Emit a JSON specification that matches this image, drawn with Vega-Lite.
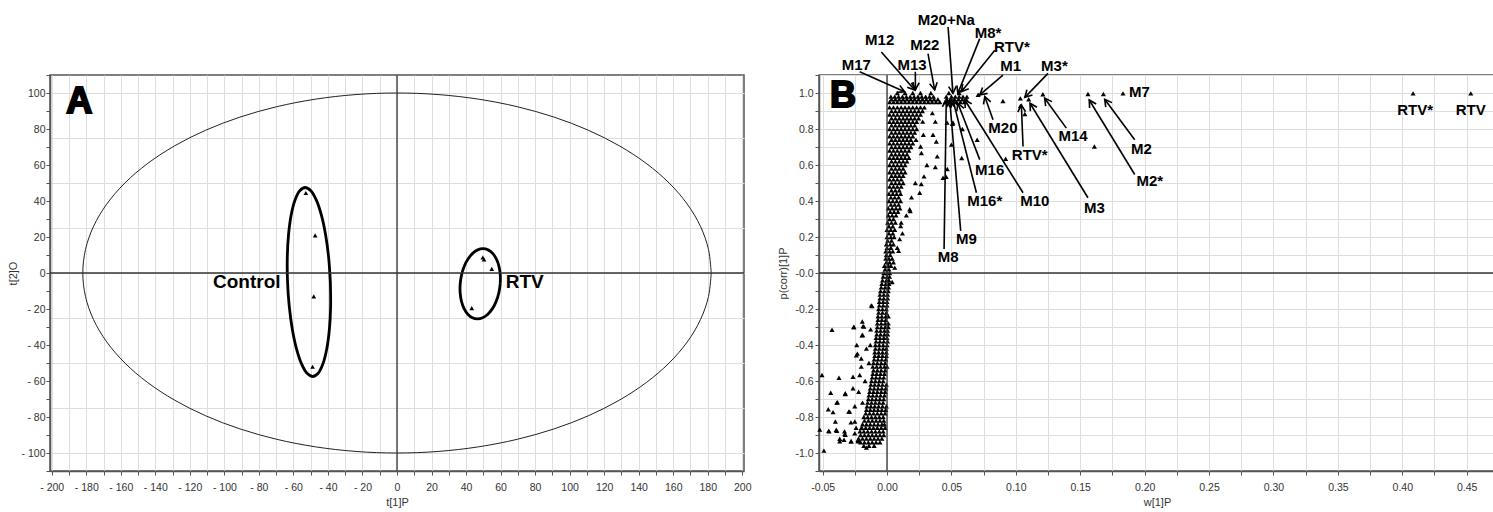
{
  "$schema": "https://vega.github.io/schema/vega-lite/v6.json",
  "background": "white",
  "padding": {"left": 6, "top": 12, "right": 0, "bottom": 0},
  "bounds": "flush",
  "spacing": 75,
  "config": {
    "view": {"stroke": "#555", "strokeWidth": 1.5},
    "font": "Liberation Sans",
    "axis": {
      "labelFont": "Liberation Sans Narrow, Liberation Sans, sans-serif",
      "labelFontSize": 11,
      "labelColor": "#333",
      "titleFont": "Liberation Sans Narrow, Liberation Sans, sans-serif",
      "titleFontSize": 11,
      "titleFontWeight": "normal",
      "titleColor": "#333",
      "domainColor": "#555",
      "domainWidth": 1.5,
      "tickColor": "#555",
      "tickSize": 4,
      "gridColor": "#dedede",
      "labelOverlap": false,
      "labelFlush": false
    }
  },
  "hconcat": [
    {
      "width": 694,
      "height": 396,
      "resolve": {"axis": {"x": "independent", "y": "independent"}},
      "layer": [
        {
          "data": {"values": [
            {"i":0,"x":182,"y":0},{"i":1,"x":180.44,"y":13.05},{"i":2,"x":175.8,"y":25.88},{"i":3,"x":168.15,"y":38.27},{"i":4,"x":157.62,"y":50},{"i":5,"x":144.39,"y":60.88},{"i":6,"x":128.69,"y":70.71},{"i":7,"x":110.79,"y":79.34},{"i":8,"x":91,"y":86.6},{"i":9,"x":69.65,"y":92.39},{"i":10,"x":47.11,"y":96.59},{"i":11,"x":23.76,"y":99.14},{"i":12,"x":0,"y":100},
            {"i":13,"x":-23.76,"y":99.14},{"i":14,"x":-47.11,"y":96.59},{"i":15,"x":-69.65,"y":92.39},{"i":16,"x":-91,"y":86.6},{"i":17,"x":-110.79,"y":79.34},{"i":18,"x":-128.69,"y":70.71},{"i":19,"x":-144.39,"y":60.88},{"i":20,"x":-157.62,"y":50},{"i":21,"x":-168.15,"y":38.27},{"i":22,"x":-175.8,"y":25.88},{"i":23,"x":-180.44,"y":13.05},{"i":24,"x":-182,"y":0},
            {"i":25,"x":-180.44,"y":-13.05},{"i":26,"x":-175.8,"y":-25.88},{"i":27,"x":-168.15,"y":-38.27},{"i":28,"x":-157.62,"y":-50},{"i":29,"x":-144.39,"y":-60.88},{"i":30,"x":-128.69,"y":-70.71},{"i":31,"x":-110.79,"y":-79.34},{"i":32,"x":-91,"y":-86.6},{"i":33,"x":-69.65,"y":-92.39},{"i":34,"x":-47.11,"y":-96.59},{"i":35,"x":-23.76,"y":-99.14},{"i":36,"x":0,"y":-100},
            {"i":37,"x":23.76,"y":-99.14},{"i":38,"x":47.11,"y":-96.59},{"i":39,"x":69.65,"y":-92.39},{"i":40,"x":91,"y":-86.6},{"i":41,"x":110.79,"y":-79.34},{"i":42,"x":128.69,"y":-70.71},{"i":43,"x":144.39,"y":-60.88},{"i":44,"x":157.62,"y":-50},{"i":45,"x":168.15,"y":-38.27},{"i":46,"x":175.8,"y":-25.88},{"i":47,"x":180.44,"y":-13.05},{"i":48,"x":182,"y":0}
          ]},
          "mark": {"type": "line", "color": "#222", "strokeWidth": 1, "interpolate": "catmull-rom"},
          "encoding": {
            "x": {"field": "x", "type": "quantitative", "scale": {"domain": [-201, 201], "nice": false, "zero": false},
              "axis": {"orient": "bottom", "values": [-200,-190,-180,-170,-160,-150,-140,-130,-120,-110,-100,-90,-80,-70,-60,-50,-40,-30,-20,-10,0,10,20,30,40,50,60,70,80,90,100,110,120,130,140,150,160,170,180,190,200],
                "labelExpr": "datum.value % 20 == 0 ? (datum.value < 0 ? '- ' + abs(datum.value) : '' + datum.value) : ''",
                "labelOverlap": false, "labelFontSize": 10.5,
                "title": "t[1]P", "grid": true, "labelPadding": 7, "titlePadding": 4}},
            "y": {"field": "y", "type": "quantitative", "scale": {"domain": [-110, 110], "nice": false, "zero": false},
              "axis": {"orient": "right", "values": [-100,-75,-50,-25,0,25,50,75,100], "grid": true, "labels": false, "ticks": false, "domain": false, "title": null}},
            "order": {"field": "i", "type": "quantitative"}
          }
        },
        {
          "data": {"values": [
            {"g":"c","i":0,"x":-38.6,"y":-5},{"g":"c","i":1,"x":-39.59,"y":8.59},{"g":"c","i":2,"x":-41.36,"y":21.25},{"g":"c","i":3,"x":-43.79,"y":32.12},{"g":"c","i":4,"x":-46.71,"y":40.47},{"g":"c","i":5,"x":-49.91,"y":45.71},{"g":"c","i":6,"x":-53.2,"y":47.5},{"g":"c","i":7,"x":-56.33,"y":45.71},{"g":"c","i":8,"x":-59.11,"y":40.47},{"g":"c","i":9,"x":-61.33,"y":32.12},{"g":"c","i":10,"x":-62.84,"y":21.25},{"g":"c","i":11,"x":-63.55,"y":8.59},{"g":"c","i":12,"x":-63.4,"y":-5},{"g":"c","i":13,"x":-62.41,"y":-18.59},{"g":"c","i":14,"x":-60.64,"y":-31.25},{"g":"c","i":15,"x":-58.21,"y":-42.12},{"g":"c","i":16,"x":-55.29,"y":-50.47},{"g":"c","i":17,"x":-52.09,"y":-55.71},{"g":"c","i":18,"x":-48.8,"y":-57.5},{"g":"c","i":19,"x":-45.67,"y":-55.71},{"g":"c","i":20,"x":-42.89,"y":-50.47},{"g":"c","i":21,"x":-40.67,"y":-42.12},{"g":"c","i":22,"x":-39.16,"y":-31.25},{"g":"c","i":23,"x":-38.45,"y":-18.59},{"g":"c","i":24,"x":-38.6,"y":-5},
            {"g":"r","i":0,"x":59.8,"y":-6},{"g":"r","i":1,"x":59.81,"y":-0.95},{"g":"r","i":2,"x":59.05,"y":3.75},{"g":"r","i":3,"x":57.53,"y":7.79},{"g":"r","i":4,"x":55.39,"y":10.89},{"g":"r","i":5,"x":52.75,"y":12.84},{"g":"r","i":6,"x":49.8,"y":13.5},{"g":"r","i":7,"x":46.75,"y":12.84},{"g":"r","i":8,"x":43.79,"y":10.89},{"g":"r","i":9,"x":41.13,"y":7.79},{"g":"r","i":10,"x":38.95,"y":3.75},{"g":"r","i":11,"x":37.41,"y":-0.95},{"g":"r","i":12,"x":36.6,"y":-6},{"g":"r","i":13,"x":36.59,"y":-11.05},{"g":"r","i":14,"x":37.35,"y":-15.75},{"g":"r","i":15,"x":38.87,"y":-19.79},{"g":"r","i":16,"x":41.01,"y":-22.89},{"g":"r","i":17,"x":43.65,"y":-24.84},{"g":"r","i":18,"x":46.6,"y":-25.5},{"g":"r","i":19,"x":49.65,"y":-24.84},{"g":"r","i":20,"x":52.61,"y":-22.89},{"g":"r","i":21,"x":55.27,"y":-19.79},{"g":"r","i":22,"x":57.45,"y":-15.75},{"g":"r","i":23,"x":58.99,"y":-11.05},{"g":"r","i":24,"x":59.8,"y":-6}
          ]},
          "mark": {"type": "line", "color": "black", "strokeWidth": 2.8, "interpolate": "catmull-rom"},
          "encoding": {
            "x": {"field": "x", "type": "quantitative", "axis": null},
            "y": {"field": "y", "type": "quantitative", "axis": null},
            "detail": {"field": "g"},
            "order": {"field": "i", "type": "quantitative"}
          }
        },
        {
          "data": {"values": [{}]},
          "mark": {"type": "rule", "color": "#333", "strokeWidth": 1.3},
          "encoding": {"x": {"datum": 0, "axis": null}}
        },
        {
          "data": {"values": [{}]},
          "mark": {"type": "rule", "color": "#333", "strokeWidth": 1.3},
          "encoding": {"y": {"datum": 0, "axis": null}}
        },
        {
          "data": {"values": [
            {"group":"Control","x":-52.8,"y":44.4},{"group":"Control","x":-47.4,"y":20.9},{"group":"Control","x":-48.2,"y":-13},{"group":"Control","x":-48.9,"y":-52.1},
            {"group":"RTV","x":49.7,"y":8.6},{"group":"RTV","x":50.4,"y":7.5},{"group":"RTV","x":54.9,"y":2.3},{"group":"RTV","x":43.3,"y":-19.5}
          ]},
          "mark": {"type": "point", "shape": "triangle-up", "filled": true, "color": "black", "opacity": 1, "size": 22},
          "encoding": {
            "x": {"field": "x", "type": "quantitative", "axis": null},
            "y": {"field": "y", "type": "quantitative",
              "axis": {"orient": "left", "values": [-110,-100,-90,-80,-70,-60,-50,-40,-30,-20,-10,0,10,20,30,40,50,60,70,80,90,100,110],
                "labelExpr": "datum.value % 20 == 0 ? (datum.value < 0 ? '- ' + abs(datum.value) : '' + datum.value) : ''",
                "labelOverlap": false, "labelFontSize": 10.5,
                "title": "t[2]O", "grid": false, "labelPadding": 1, "titlePadding": 3}}
          }
        },
        {
          "data": {"values": [{"label":"Control","x":-87,"y":-5},{"label":"RTV","x":74,"y":-5}]},
          "mark": {"type": "text", "fontSize": 19, "fontWeight": "bold", "font": "Liberation Sans", "color": "black", "baseline": "middle", "align": "center"},
          "encoding": {
            "x": {"field": "x", "type": "quantitative", "axis": null},
            "y": {"field": "y", "type": "quantitative", "axis": null},
            "text": {"field": "label"}
          }
        },
        {
          "data": {"values": [{"panel":"A","x":-184,"y":95}]},
          "mark": {"type": "text", "fontSize": 36, "fontWeight": "bold", "font": "Liberation Sans", "color": "black", "stroke": "black", "strokeWidth": 2, "baseline": "middle", "align": "center"},
          "encoding": {
            "x": {"field": "x", "type": "quantitative", "axis": null},
            "y": {"field": "y", "type": "quantitative", "axis": null},
            "text": {"field": "panel"}
          }
        }
      ]
    },
    {
      "width": 676,
      "height": 396,
      "resolve": {"axis": {"x": "independent", "y": "independent"}},
      "layer": [
        {
          "data": {"values": [
            {"x":-0.018,"y":-0.96},{"x":-0.014,"y":-0.96},{"x":-0.010,"y":-0.96},
            {"x":-0.022,"y":-0.92},{"x":-0.019,"y":-0.92},{"x":-0.016,"y":-0.92},{"x":-0.013,"y":-0.92},{"x":-0.010,"y":-0.92},{"x":-0.007,"y":-0.92},{"x":-0.004,"y":-0.92},
            {"x":-0.021,"y":-0.88},{"x":-0.018,"y":-0.88},{"x":-0.015,"y":-0.88},{"x":-0.012,"y":-0.88},{"x":-0.009,"y":-0.88},{"x":-0.006,"y":-0.88},{"x":-0.003,"y":-0.88},
            {"x":-0.019,"y":-0.84},{"x":-0.016,"y":-0.84},{"x":-0.013,"y":-0.84},{"x":-0.010,"y":-0.84},{"x":-0.007,"y":-0.84},{"x":-0.004,"y":-0.84},{"x":-0.002,"y":-0.84},
            {"x":-0.018,"y":-0.80},{"x":-0.015,"y":-0.80},{"x":-0.012,"y":-0.80},{"x":-0.009,"y":-0.80},{"x":-0.006,"y":-0.80},{"x":-0.003,"y":-0.80},
            {"x":-0.016,"y":-0.76},{"x":-0.013,"y":-0.76},{"x":-0.010,"y":-0.76},{"x":-0.007,"y":-0.76},{"x":-0.004,"y":-0.76},{"x":-0.001,"y":-0.76},
            {"x":-0.015,"y":-0.72},{"x":-0.012,"y":-0.72},{"x":-0.009,"y":-0.72},{"x":-0.006,"y":-0.72},{"x":-0.003,"y":-0.72},
            {"x":-0.014,"y":-0.68},{"x":-0.011,"y":-0.68},{"x":-0.008,"y":-0.68},{"x":-0.005,"y":-0.68},{"x":-0.002,"y":-0.68},
            {"x":-0.013,"y":-0.64},{"x":-0.010,"y":-0.64},{"x":-0.007,"y":-0.64},{"x":-0.004,"y":-0.64},{"x":-0.001,"y":-0.64},
            {"x":-0.012,"y":-0.60},{"x":-0.009,"y":-0.60},{"x":-0.006,"y":-0.60},{"x":-0.003,"y":-0.60},
            {"x":-0.011,"y":-0.56},{"x":-0.008,"y":-0.56},{"x":-0.005,"y":-0.56},{"x":-0.002,"y":-0.56},
            {"x":-0.011,"y":-0.52},{"x":-0.008,"y":-0.52},{"x":-0.005,"y":-0.52},{"x":-0.002,"y":-0.52},{"x":0.0,"y":-0.52},
            {"x":-0.010,"y":-0.48},{"x":-0.007,"y":-0.48},{"x":-0.004,"y":-0.48},{"x":-0.001,"y":-0.48},
            {"x":-0.0095,"y":-0.44},{"x":-0.0065,"y":-0.44},{"x":-0.0035,"y":-0.44},{"x":-0.0005,"y":-0.44},
            {"x":-0.009,"y":-0.40},{"x":-0.006,"y":-0.40},{"x":-0.003,"y":-0.40},{"x":0.0,"y":-0.40},
            {"x":-0.0085,"y":-0.36},{"x":-0.0055,"y":-0.36},{"x":-0.0025,"y":-0.36},{"x":0.0,"y":-0.36},
            {"x":-0.008,"y":-0.32},{"x":-0.005,"y":-0.32},{"x":-0.002,"y":-0.32},{"x":0.0005,"y":-0.32},
            {"x":-0.0075,"y":-0.28},{"x":-0.0045,"y":-0.28},{"x":-0.0015,"y":-0.28},{"x":0.001,"y":-0.28},
            {"x":-0.007,"y":-0.24},{"x":-0.004,"y":-0.24},{"x":-0.001,"y":-0.24},{"x":0.001,"y":-0.24},
            {"x":-0.0065,"y":-0.20},{"x":-0.0035,"y":-0.20},{"x":-0.0005,"y":-0.20},
            {"x":-0.006,"y":-0.16},{"x":-0.003,"y":-0.16},{"x":0.0,"y":-0.16},
            {"x":-0.0055,"y":-0.12},{"x":-0.0025,"y":-0.12},{"x":0.0005,"y":-0.12},
            {"x":-0.0045,"y":-0.08},{"x":-0.0015,"y":-0.08},{"x":0.0012,"y":-0.08},
            {"x":-0.0035,"y":-0.04},{"x":-0.0005,"y":-0.04},{"x":0.0015,"y":-0.04},
            {"x":-0.0025,"y":0.0},{"x":0.0,"y":0.0},{"x":0.002,"y":0.0},
            {"x":-0.0205,"y":-0.94},{"x":-0.0175,"y":-0.94},{"x":-0.0145,"y":-0.94},{"x":-0.0115,"y":-0.94},{"x":-0.0085,"y":-0.94},{"x":-0.0055,"y":-0.94},
            {"x":-0.0205,"y":-0.90},{"x":-0.0175,"y":-0.90},{"x":-0.0145,"y":-0.90},{"x":-0.0115,"y":-0.90},{"x":-0.0085,"y":-0.90},{"x":-0.0055,"y":-0.90},{"x":-0.0025,"y":-0.90},
            {"x":-0.0195,"y":-0.86},{"x":-0.0165,"y":-0.86},{"x":-0.0135,"y":-0.86},{"x":-0.0105,"y":-0.86},{"x":-0.0075,"y":-0.86},{"x":-0.0045,"y":-0.86},{"x":-0.0015,"y":-0.86},
            {"x":-0.0175,"y":-0.82},{"x":-0.0145,"y":-0.82},{"x":-0.0115,"y":-0.82},{"x":-0.0085,"y":-0.82},{"x":-0.0055,"y":-0.82},{"x":-0.0025,"y":-0.82},
            {"x":-0.0165,"y":-0.78},{"x":-0.0135,"y":-0.78},{"x":-0.0105,"y":-0.78},{"x":-0.0075,"y":-0.78},{"x":-0.0045,"y":-0.78},{"x":-0.0015,"y":-0.78},
            {"x":-0.0155,"y":-0.74},{"x":-0.0125,"y":-0.74},{"x":-0.0095,"y":-0.74},{"x":-0.0065,"y":-0.74},{"x":-0.0035,"y":-0.74},{"x":-0.0005,"y":-0.74},
            {"x":-0.0145,"y":-0.70},{"x":-0.0115,"y":-0.70},{"x":-0.0085,"y":-0.70},{"x":-0.0055,"y":-0.70},{"x":-0.0025,"y":-0.70},
            {"x":-0.0135,"y":-0.66},{"x":-0.0105,"y":-0.66},{"x":-0.0075,"y":-0.66},{"x":-0.0045,"y":-0.66},{"x":-0.0015,"y":-0.66},
            {"x":-0.0125,"y":-0.62},{"x":-0.0095,"y":-0.62},{"x":-0.0065,"y":-0.62},{"x":-0.0035,"y":-0.62},{"x":-0.0005,"y":-0.62},
            {"x":-0.0115,"y":-0.58},{"x":-0.0085,"y":-0.58},{"x":-0.0055,"y":-0.58},{"x":-0.0025,"y":-0.58},
            {"x":-0.0105,"y":-0.54},{"x":-0.0075,"y":-0.54},{"x":-0.0045,"y":-0.54},{"x":-0.0015,"y":-0.54},
            {"x":-0.0105,"y":-0.50},{"x":-0.0075,"y":-0.50},{"x":-0.0045,"y":-0.50},{"x":-0.0015,"y":-0.50},
            {"x":-0.0095,"y":-0.46},{"x":-0.0065,"y":-0.46},{"x":-0.0035,"y":-0.46},{"x":-0.0005,"y":-0.46},
            {"x":-0.009,"y":-0.42},{"x":-0.006,"y":-0.42},{"x":-0.003,"y":-0.42},{"x":-0.0005,"y":-0.42},
            {"x":-0.0085,"y":-0.38},{"x":-0.0055,"y":-0.38},{"x":-0.0025,"y":-0.38},{"x":0.0005,"y":-0.38},
            {"x":-0.008,"y":-0.34},{"x":-0.005,"y":-0.34},{"x":-0.002,"y":-0.34},{"x":0.0005,"y":-0.34},
            {"x":-0.0075,"y":-0.30},{"x":-0.0045,"y":-0.30},{"x":-0.0015,"y":-0.30},{"x":0.001,"y":-0.30},
            {"x":-0.007,"y":-0.26},{"x":-0.004,"y":-0.26},{"x":-0.001,"y":-0.26},
            {"x":-0.0065,"y":-0.22},{"x":-0.0035,"y":-0.22},{"x":-0.0005,"y":-0.22},
            {"x":-0.006,"y":-0.18},{"x":-0.003,"y":-0.18},{"x":0.0,"y":-0.18},
            {"x":-0.0055,"y":-0.14},{"x":-0.0025,"y":-0.14},{"x":0.0005,"y":-0.14},
            {"x":-0.005,"y":-0.10},{"x":-0.002,"y":-0.10},{"x":0.001,"y":-0.10},
            {"x":-0.004,"y":-0.06},{"x":-0.001,"y":-0.06},{"x":0.0015,"y":-0.06},
            {"x":-0.003,"y":-0.02},{"x":0.0,"y":-0.02},{"x":0.002,"y":-0.02},
            {"x":-0.002,"y":0.04},{"x":0.001,"y":0.04},{"x":0.003,"y":0.04},
            {"x":-0.001,"y":0.08},{"x":0.0015,"y":0.08},{"x":0.004,"y":0.08},
            {"x":-0.001,"y":0.12},{"x":0.002,"y":0.12},{"x":0.0045,"y":0.12},
            {"x":-0.0005,"y":0.16},{"x":0.0025,"y":0.16},{"x":0.005,"y":0.16},
            {"x":0.0,"y":0.20},{"x":0.003,"y":0.20},{"x":0.0055,"y":0.20},
            {"x":0.0,"y":0.24},{"x":0.003,"y":0.24},{"x":0.006,"y":0.24},
            {"x":0.0005,"y":0.28},{"x":0.0035,"y":0.28},{"x":0.0065,"y":0.28},
            {"x":0.001,"y":0.32},{"x":0.004,"y":0.32},{"x":0.007,"y":0.32},
            {"x":0.001,"y":0.36},{"x":0.004,"y":0.36},{"x":0.007,"y":0.36},{"x":0.010,"y":0.36},
            {"x":0.0015,"y":0.40},{"x":0.0045,"y":0.40},{"x":0.0075,"y":0.40},{"x":0.0105,"y":0.40},
            {"x":0.0015,"y":0.44},{"x":0.0045,"y":0.44},{"x":0.0075,"y":0.44},{"x":0.0105,"y":0.44},
            {"x":0.002,"y":0.48},{"x":0.005,"y":0.48},{"x":0.008,"y":0.48},{"x":0.011,"y":0.48},
            {"x":0.002,"y":0.52},{"x":0.005,"y":0.52},{"x":0.008,"y":0.52},{"x":0.011,"y":0.52},
            {"x":0.002,"y":0.56},{"x":0.005,"y":0.56},{"x":0.008,"y":0.56},{"x":0.011,"y":0.56},{"x":0.014,"y":0.56},
            {"x":0.002,"y":0.60},{"x":0.005,"y":0.60},{"x":0.008,"y":0.60},{"x":0.011,"y":0.60},{"x":0.014,"y":0.60},
            {"x":0.002,"y":0.64},{"x":0.005,"y":0.64},{"x":0.008,"y":0.64},{"x":0.011,"y":0.64},{"x":0.014,"y":0.64},{"x":0.017,"y":0.64},
            {"x":0.002,"y":0.68},{"x":0.005,"y":0.68},{"x":0.008,"y":0.68},{"x":0.011,"y":0.68},{"x":0.014,"y":0.68},{"x":0.017,"y":0.68},
            {"x":0.002,"y":0.72},{"x":0.005,"y":0.72},{"x":0.008,"y":0.72},{"x":0.011,"y":0.72},{"x":0.014,"y":0.72},{"x":0.017,"y":0.72},{"x":0.020,"y":0.72},
            {"x":0.002,"y":0.76},{"x":0.005,"y":0.76},{"x":0.008,"y":0.76},{"x":0.011,"y":0.76},{"x":0.014,"y":0.76},{"x":0.017,"y":0.76},{"x":0.020,"y":0.76},
            {"x":0.002,"y":0.80},{"x":0.005,"y":0.80},{"x":0.008,"y":0.80},{"x":0.011,"y":0.80},{"x":0.014,"y":0.80},{"x":0.017,"y":0.80},{"x":0.020,"y":0.80},{"x":0.023,"y":0.80},
            {"x":0.002,"y":0.84},{"x":0.005,"y":0.84},{"x":0.008,"y":0.84},{"x":0.011,"y":0.84},{"x":0.014,"y":0.84},{"x":0.017,"y":0.84},{"x":0.020,"y":0.84},{"x":0.023,"y":0.84},
            {"x":0.002,"y":0.88},{"x":0.005,"y":0.88},{"x":0.008,"y":0.88},{"x":0.011,"y":0.88},{"x":0.014,"y":0.88},{"x":0.017,"y":0.88},{"x":0.020,"y":0.88},{"x":0.023,"y":0.88},{"x":0.026,"y":0.88},
            {"x":0.002,"y":0.92},{"x":0.005,"y":0.92},{"x":0.008,"y":0.92},{"x":0.011,"y":0.92},{"x":0.014,"y":0.92},{"x":0.017,"y":0.92},{"x":0.020,"y":0.92},{"x":0.023,"y":0.92},{"x":0.026,"y":0.92},{"x":0.029,"y":0.92},
            {"x":-0.0015,"y":0.02},{"x":0.0015,"y":0.02},{"x":-0.0005,"y":0.06},{"x":0.002,"y":0.06},{"x":-0.0005,"y":0.10},{"x":0.0025,"y":0.10},{"x":0.0,"y":0.14},{"x":0.003,"y":0.14},{"x":0.0005,"y":0.18},{"x":0.0035,"y":0.18},{"x":0.0015,"y":0.22},{"x":0.0045,"y":0.22},{"x":0.0015,"y":0.26},{"x":0.0045,"y":0.26},{"x":0.002,"y":0.30},{"x":0.005,"y":0.30},
            {"x":0.0025,"y":0.34},{"x":0.0055,"y":0.34},{"x":0.0085,"y":0.34},{"x":0.003,"y":0.38},{"x":0.006,"y":0.38},{"x":0.009,"y":0.38},{"x":0.003,"y":0.42},{"x":0.006,"y":0.42},{"x":0.009,"y":0.42},{"x":0.0035,"y":0.46},{"x":0.0065,"y":0.46},{"x":0.0095,"y":0.46},
            {"x":0.0035,"y":0.50},{"x":0.0065,"y":0.50},{"x":0.0095,"y":0.50},{"x":0.0125,"y":0.50},{"x":0.0035,"y":0.54},{"x":0.0065,"y":0.54},{"x":0.0095,"y":0.54},{"x":0.0125,"y":0.54},{"x":0.0035,"y":0.58},{"x":0.0065,"y":0.58},{"x":0.0095,"y":0.58},{"x":0.0125,"y":0.58},
            {"x":0.0035,"y":0.62},{"x":0.0065,"y":0.62},{"x":0.0095,"y":0.62},{"x":0.0125,"y":0.62},{"x":0.0155,"y":0.62},{"x":0.0035,"y":0.66},{"x":0.0065,"y":0.66},{"x":0.0095,"y":0.66},{"x":0.0125,"y":0.66},{"x":0.0155,"y":0.66},
            {"x":0.0035,"y":0.70},{"x":0.0065,"y":0.70},{"x":0.0095,"y":0.70},{"x":0.0125,"y":0.70},{"x":0.0155,"y":0.70},{"x":0.0185,"y":0.70},{"x":0.0035,"y":0.74},{"x":0.0065,"y":0.74},{"x":0.0095,"y":0.74},{"x":0.0125,"y":0.74},{"x":0.0155,"y":0.74},{"x":0.0185,"y":0.74},
            {"x":0.0035,"y":0.78},{"x":0.0065,"y":0.78},{"x":0.0095,"y":0.78},{"x":0.0125,"y":0.78},{"x":0.0155,"y":0.78},{"x":0.0185,"y":0.78},{"x":0.0215,"y":0.78},{"x":0.0035,"y":0.82},{"x":0.0065,"y":0.82},{"x":0.0095,"y":0.82},{"x":0.0125,"y":0.82},{"x":0.0155,"y":0.82},{"x":0.0185,"y":0.82},{"x":0.0215,"y":0.82},
            {"x":0.0035,"y":0.86},{"x":0.0065,"y":0.86},{"x":0.0095,"y":0.86},{"x":0.0125,"y":0.86},{"x":0.0155,"y":0.86},{"x":0.0185,"y":0.86},{"x":0.0215,"y":0.86},{"x":0.0245,"y":0.86},
            {"x":0.0035,"y":0.90},{"x":0.0065,"y":0.90},{"x":0.0095,"y":0.90},{"x":0.0125,"y":0.90},{"x":0.0155,"y":0.90},{"x":0.0185,"y":0.90},{"x":0.0215,"y":0.90},{"x":0.0245,"y":0.90},{"x":0.0275,"y":0.90},
            {"x":0.002,"y":0.95},{"x":0.005,"y":0.95},{"x":0.008,"y":0.95},{"x":0.011,"y":0.95},{"x":0.014,"y":0.95},{"x":0.017,"y":0.95},{"x":0.020,"y":0.95},{"x":0.023,"y":0.95},{"x":0.026,"y":0.95},{"x":0.029,"y":0.95},{"x":0.032,"y":0.95},{"x":0.035,"y":0.95},{"x":0.038,"y":0.95},{"x":0.041,"y":0.95},{"x":0.045,"y":0.95},{"x":0.048,"y":0.95},{"x":0.051,"y":0.95},{"x":0.054,"y":0.95},{"x":0.057,"y":0.95},{"x":0.060,"y":0.95},
            {"x":0.0035,"y":0.965},{"x":0.0065,"y":0.965},{"x":0.0095,"y":0.965},{"x":0.0125,"y":0.965},{"x":0.0155,"y":0.965},{"x":0.0185,"y":0.965},{"x":0.0215,"y":0.965},{"x":0.0245,"y":0.965},{"x":0.0275,"y":0.965},{"x":0.0305,"y":0.965},{"x":0.0335,"y":0.965},{"x":0.0365,"y":0.965},{"x":0.0395,"y":0.965},{"x":0.0465,"y":0.965},{"x":0.0495,"y":0.965},{"x":0.0525,"y":0.965},{"x":0.0555,"y":0.965},{"x":0.0585,"y":0.965},{"x":0.0615,"y":0.965},
            {"x":0.003,"y":0.98},{"x":0.006,"y":0.98},{"x":0.009,"y":0.98},{"x":0.012,"y":0.98},{"x":0.015,"y":0.98},{"x":0.018,"y":0.98},{"x":0.021,"y":0.98},{"x":0.024,"y":0.98},{"x":0.027,"y":0.98},{"x":0.030,"y":0.98},{"x":0.033,"y":0.98},{"x":0.036,"y":0.98},{"x":0.046,"y":0.98},{"x":0.050,"y":0.98},{"x":0.053,"y":0.98},{"x":0.056,"y":0.98},{"x":0.059,"y":0.98},{"x":0.062,"y":0.98},
            {"x":0.008,"y":1.0},{"x":0.014,"y":1.0},{"x":0.020,"y":1.0},{"x":0.026,"y":1.0},{"x":0.034,"y":1.0},{"x":0.048,"y":1.0},{"x":0.056,"y":1.0},
            {"x":0.0707,"y":0.99},{"x":0.090,"y":0.956},{"x":0.1035,"y":0.97},{"x":0.110,"y":0.965},{"x":0.121,"y":0.993},{"x":0.1035,"y":0.928},{"x":0.107,"y":0.883},{"x":0.156,"y":0.994},{"x":0.168,"y":0.994},{"x":0.1832,"y":0.998},{"x":0.161,"y":0.703},{"x":0.4084,"y":0.998},{"x":0.4532,"y":0.998},
            {"x":0.0352,"y":0.888},{"x":0.0277,"y":0.841},{"x":0.0375,"y":0.841},{"x":0.0282,"y":0.768},{"x":0.0357,"y":0.768},{"x":0.0225,"y":0.74},{"x":0.0383,"y":0.731},{"x":0.0261,"y":0.703},{"x":0.0267,"y":0.667},{"x":0.039,"y":0.648},{"x":0.0375,"y":0.589},{"x":0.0468,"y":0.578},{"x":0.0287,"y":0.537},{"x":0.046,"y":0.534},{"x":0.0466,"y":0.836},{"x":0.0512,"y":0.836},{"x":0.0585,"y":0.80},{"x":0.070,"y":0.74},{"x":0.0921,"y":0.635},{"x":0.0508,"y":0.829},{"x":0.0435,"y":0.529},{"x":0.050,"y":0.713},{"x":0.058,"y":0.639},{"x":0.0254,"y":0.446},{"x":0.0176,"y":0.354},{"x":0.0106,"y":0.261},{"x":0.031,"y":0.60},{"x":0.022,"y":0.50},{"x":0.019,"y":0.42},{"x":0.015,"y":0.32},{"x":0.012,"y":0.22},{"x":0.008,"y":0.14},{"x":0.0266,"y":0.494},{"x":0.018,"y":0.344},{"x":0.011,"y":0.28},{"x":0.0098,"y":0.188},{"x":0.009,"y":0.123},{"x":0.005,"y":0.06},{"x":0.006,"y":0.03},{"x":0.004,"y":-0.05},
            {"x":-0.049,"y":-0.987},{"x":-0.0522,"y":-0.87},{"x":-0.0505,"y":-0.567},{"x":-0.0427,"y":-0.315},{"x":-0.0437,"y":-0.665},{"x":-0.0373,"y":-0.582},{"x":-0.0456,"y":-0.757},{"x":-0.039,"y":-0.72},{"x":-0.045,"y":-0.88},{"x":-0.039,"y":-0.877},{"x":-0.0324,"y":-0.672},{"x":-0.0297,"y":-0.77},{"x":-0.0259,"y":-0.30},{"x":-0.0192,"y":-0.269},{"x":-0.018,"y":-0.297},{"x":-0.0116,"y":-0.184},{"x":-0.0235,"y":-0.40},{"x":-0.0238,"y":-0.457},{"x":-0.0189,"y":-0.344},{"x":-0.0324,"y":-0.899},{"x":-0.028,"y":-0.935},{"x":-0.0225,"y":-0.935},{"x":-0.016,"y":-0.97},{"x":-0.0367,"y":-0.935},{"x":-0.033,"y":-0.88},{"x":-0.025,"y":-0.825},{"x":-0.0212,"y":-0.567},{"x":-0.0264,"y":-0.576},{"x":-0.0324,"y":-0.668},{"x":-0.0264,"y":-0.64},{"x":-0.0385,"y":-0.718},{"x":-0.0419,"y":-0.773},{"x":-0.0401,"y":-0.825},{"x":-0.029,"y":-0.77},{"x":-0.0453,"y":-0.877},{"x":-0.0394,"y":-0.871},{"x":-0.0328,"y":-0.895},{"x":-0.0367,"y":-0.921},{"x":-0.0334,"y":-0.926},{"x":-0.0277,"y":-0.935},{"x":-0.0225,"y":-0.926},{"x":-0.025,"y":-0.89},{"x":-0.02,"y":-0.862},{"x":-0.0122,"y":-0.18},{"x":-0.0256,"y":-0.30},{"x":-0.0186,"y":-0.295},{"x":-0.0127,"y":-0.313},{"x":-0.0194,"y":-0.346},{"x":-0.023,"y":-0.448},{"x":-0.016,"y":-0.42},{"x":-0.02,"y":-0.475},{"x":-0.02,"y":-0.52},{"x":-0.017,"y":-0.6},{"x":-0.022,"y":-0.66},{"x":-0.019,"y":-0.72},{"x":-0.025,"y":-0.74},{"x":-0.028,"y":-0.83},{"x":-0.024,"y":-0.86},{"x":-0.014,"y":-0.5},{"x":-0.013,"y":-0.4}
          ]},
          "mark": {"type": "point", "shape": "triangle-up", "filled": true, "color": "black", "opacity": 1, "size": 26},
          "encoding": {
            "x": {"field": "x", "type": "quantitative", "scale": {"domain": [-0.0528, 0.472], "nice": false, "zero": false},
              "axis": {"orient": "bottom", "values": [-0.05,-0.025,0,0.025,0.05,0.075,0.1,0.125,0.15,0.175,0.2,0.225,0.25,0.275,0.3,0.325,0.35,0.375,0.4,0.425,0.45],
                "labelExpr": "abs(datum.value*20 - round(datum.value*20)) < 0.001 ? (datum.value < -0.001 ? '-' + format(abs(datum.value), '.2f') : format(abs(datum.value), '.2f')) : ''",
                "labelOverlap": false, "labelFontSize": 10.5,
                "title": "w[1]P", "grid": true, "labelPadding": 7, "titlePadding": 4}},
            "y": {"field": "y", "type": "quantitative", "scale": {"domain": [-1.1, 1.1], "nice": false, "zero": false},
              "axis": {"orient": "left", "values": [-1.1,-1,-0.9,-0.8,-0.7,-0.6,-0.5,-0.4,-0.3,-0.2,-0.1,0,0.1,0.2,0.3,0.4,0.5,0.6,0.7,0.8,0.9,1,1.1],
                "labelExpr": "abs(datum.value*5 - round(datum.value*5)) < 0.001 ? (datum.value < 0.001 ? '-' + format(abs(datum.value), '.1f') : format(abs(datum.value), '.1f')) : ''",
                "labelOverlap": false, "labelFontSize": 10.5,
                "title": "p(corr)[1]P", "grid": true, "labelPadding": 2, "titlePadding": 6}}
          }
        },
        {
          "data": {"values": [{}]},
          "mark": {"type": "rule", "color": "#333", "strokeWidth": 1.3},
          "encoding": {"x": {"datum": 0, "axis": null}}
        },
        {
          "data": {"values": [{}]},
          "mark": {"type": "rule", "color": "#333", "strokeWidth": 1.3},
          "encoding": {"y": {"datum": 0, "axis": null}}
        },
        {
          "data": {"values": [
            {"label":"M17","x1":-0.0212,"y1":1.118,"x2":0.0137,"y2":1.007},
            {"label":"M12","x1":-0.0044,"y1":1.228,"x2":0.0215,"y2":1.017},
            {"label":"M13","x1":0.022,"y1":1.118,"x2":0.022,"y2":1.018},
            {"label":"M22","x1":0.0318,"y1":1.219,"x2":0.037,"y2":1.017},
            {"label":"M20+Na","x1":0.0474,"y1":1.367,"x2":0.0512,"y2":0.998},
            {"label":"M8*","x1":0.072,"y1":1.302,"x2":0.055,"y2":0.998},
            {"label":"RTV*","x1":0.0837,"y1":1.238,"x2":0.0577,"y2":1.007},
            {"label":"M1","x1":0.09,"y1":1.099,"x2":0.072,"y2":0.989},
            {"label":"M3*","x1":0.125,"y1":1.109,"x2":0.107,"y2":0.976},
            {"label":"M20","x1":0.0823,"y1":0.851,"x2":0.0759,"y2":0.98},
            {"label":"RTV*","x1":0.1056,"y1":0.703,"x2":0.1043,"y2":0.934},
            {"label":"M14","x1":0.1392,"y1":0.805,"x2":0.1224,"y2":0.971},
            {"label":"M3","x1":0.156,"y1":0.418,"x2":0.111,"y2":0.943},
            {"label":"M2","x1":0.1923,"y1":0.74,"x2":0.169,"y2":0.965},
            {"label":"M2*","x1":0.1923,"y1":0.547,"x2":0.157,"y2":0.961},
            {"label":"M16","x1":0.072,"y1":0.63,"x2":0.055,"y2":0.943},
            {"label":"M16*","x1":0.0694,"y1":0.446,"x2":0.0512,"y2":0.961},
            {"label":"M10","x1":0.1056,"y1":0.446,"x2":0.0604,"y2":0.961},
            {"label":"M9","x1":0.0572,"y1":0.234,"x2":0.0487,"y2":0.961},
            {"label":"M8","x1":0.0443,"y1":0.133,"x2":0.046,"y2":0.961}
          ]},
          "mark": {"type": "rule", "color": "black", "strokeWidth": 1.6},
          "encoding": {
            "x": {"field": "x1", "type": "quantitative", "axis": null},
            "y": {"field": "y1", "type": "quantitative", "axis": null},
            "x2": {"field": "x2"},
            "y2": {"field": "y2"}
          }
        },
        {
          "data": {"values": [
            {"label":"M17","x1":-0.0212,"y1":1.118,"x2":0.0137,"y2":1.007},
            {"label":"M12","x1":-0.0044,"y1":1.228,"x2":0.0215,"y2":1.017},
            {"label":"M13","x1":0.022,"y1":1.118,"x2":0.022,"y2":1.018},
            {"label":"M22","x1":0.0318,"y1":1.219,"x2":0.037,"y2":1.017},
            {"label":"M20+Na","x1":0.0474,"y1":1.367,"x2":0.0512,"y2":0.998},
            {"label":"M8*","x1":0.072,"y1":1.302,"x2":0.055,"y2":0.998},
            {"label":"RTV*","x1":0.0837,"y1":1.238,"x2":0.0577,"y2":1.007},
            {"label":"M1","x1":0.09,"y1":1.099,"x2":0.072,"y2":0.989},
            {"label":"M3*","x1":0.125,"y1":1.109,"x2":0.107,"y2":0.976},
            {"label":"M20","x1":0.0823,"y1":0.851,"x2":0.0759,"y2":0.98},
            {"label":"RTV*","x1":0.1056,"y1":0.703,"x2":0.1043,"y2":0.934},
            {"label":"M14","x1":0.1392,"y1":0.805,"x2":0.1224,"y2":0.971},
            {"label":"M3","x1":0.156,"y1":0.418,"x2":0.111,"y2":0.943},
            {"label":"M2","x1":0.1923,"y1":0.74,"x2":0.169,"y2":0.965},
            {"label":"M2*","x1":0.1923,"y1":0.547,"x2":0.157,"y2":0.961},
            {"label":"M16","x1":0.072,"y1":0.63,"x2":0.055,"y2":0.943},
            {"label":"M16*","x1":0.0694,"y1":0.446,"x2":0.0512,"y2":0.961},
            {"label":"M10","x1":0.1056,"y1":0.446,"x2":0.0604,"y2":0.961},
            {"label":"M9","x1":0.0572,"y1":0.234,"x2":0.0487,"y2":0.961},
            {"label":"M8","x1":0.0443,"y1":0.133,"x2":0.046,"y2":0.961}
          ]},
          "transform": [{"calculate": "atan2((datum.x2 - datum.x1) * 1288, (datum.y2 - datum.y1) * 180.5) * 180 / PI", "as": "ang"}],
          "mark": {"type": "point", "shape": "M -0.55 1 L 0 0 L 0.55 1", "filled": false, "stroke": "black", "strokeWidth": 1.6, "opacity": 1, "size": 196},
          "encoding": {
            "x": {"field": "x2", "type": "quantitative", "axis": null},
            "y": {"field": "y2", "type": "quantitative", "axis": null},
            "angle": {"field": "ang", "type": "quantitative", "scale": null}
          }
        },
        {
          "data": {"values": [
            {"label":"M17","lx":-0.0238,"ly":1.155},
            {"label":"M12","lx":-0.0057,"ly":1.293},
            {"label":"M13","lx":0.0194,"ly":1.155},
            {"label":"M22","lx":0.0293,"ly":1.265},
            {"label":"M20+Na","lx":0.046,"ly":1.403},
            {"label":"M8*","lx":0.0784,"ly":1.333},
            {"label":"RTV*","lx":0.097,"ly":1.256},
            {"label":"M1","lx":0.096,"ly":1.149},
            {"label":"M3*","lx":0.13,"ly":1.149},
            {"label":"M20","lx":0.09,"ly":0.805},
            {"label":"RTV*","lx":0.1108,"ly":0.657},
            {"label":"M14","lx":0.1444,"ly":0.759},
            {"label":"M3","lx":0.161,"ly":0.363},
            {"label":"M2","lx":0.1975,"ly":0.689},
            {"label":"M2*","lx":0.204,"ly":0.51},
            {"label":"M16","lx":0.0797,"ly":0.575},
            {"label":"M16*","lx":0.0759,"ly":0.4},
            {"label":"M10","lx":0.1147,"ly":0.4},
            {"label":"M9","lx":0.0617,"ly":0.188},
            {"label":"M8","lx":0.0474,"ly":0.087},
            {"label":"M7","lx":0.196,"ly":1.007},
            {"label":"RTV*","lx":0.41,"ly":0.906},
            {"label":"RTV","lx":0.4532,"ly":0.906}
          ]},
          "mark": {"type": "text", "fontSize": 15, "fontWeight": "bold", "font": "Liberation Sans", "color": "black", "baseline": "middle", "align": "center"},
          "encoding": {
            "x": {"field": "lx", "type": "quantitative", "axis": null},
            "y": {"field": "ly", "type": "quantitative", "axis": null},
            "text": {"field": "label"}
          }
        },
        {
          "data": {"values": [{"panel":"B","x":-0.0342,"y":0.983}]},
          "mark": {"type": "text", "fontSize": 36, "fontWeight": "bold", "font": "Liberation Sans", "color": "black", "stroke": "black", "strokeWidth": 2, "baseline": "middle", "align": "center"},
          "encoding": {
            "x": {"field": "x", "type": "quantitative", "axis": null},
            "y": {"field": "y", "type": "quantitative", "axis": null},
            "text": {"field": "panel"}
          }
        }
      ]
    }
  ]
}
